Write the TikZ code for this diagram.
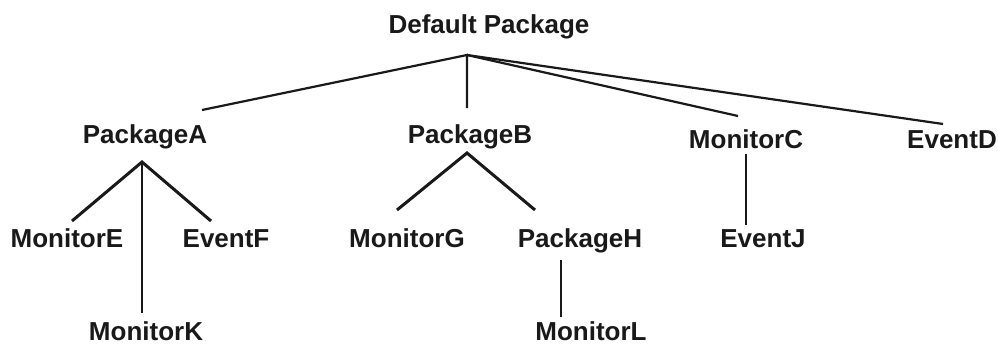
\documentclass[tikz,border=0pt]{standalone}
\usepackage{fontspec}
\setmainfont{Liberation Sans}
\begin{document}
\begin{tikzpicture}[x=1pt,y=-1pt,
  lbl/.style={anchor=base,inner sep=0pt,font=\fontsize{26}{30}\selectfont\bfseries,text=black!90},
  thinln/.style={line width=2.2pt,draw=black!90},
  thickln/.style={line width=3pt,draw=black!90}]
\useasboundingbox[fill=white] (0,0) rectangle (998,345);
% labels
\node[lbl] (root) at (489,34) {Default Package};
\node[lbl] (pA) at (145,143) {PackageA};
\node[lbl] (pB) at (470,143) {PackageB};
\node[lbl] (mC) at (746,148) {MonitorC};
\node[lbl] (eD) at (952,148) {EventD};
\node[lbl] (mE) at (67,247) {MonitorE};
\node[lbl] (eF) at (226,247) {EventF};
\node[lbl] (mG) at (407,247) {MonitorG};
\node[lbl] (pH) at (580,247) {PackageH};
\node[lbl] (eJ) at (763,247) {EventJ};
\node[lbl] (mK) at (146,340) {MonitorK};
\node[lbl] (mL) at (591,340) {MonitorL};
% hubs and ends
\coordinate (hR) at (467,55);
\coordinate (toA) at (202,110);
\coordinate (toB) at (467,108);
\coordinate (toC) at (738,116);
\coordinate (toD) at (943,124);
\coordinate (hA) at (142,162);
\coordinate (toE) at (72,221);
\coordinate (toF) at (211,221);
\coordinate (toK) at (142,313);
\coordinate (hB) at (467,153);
\coordinate (toG) at (397,210);
\coordinate (toH) at (535,210);
\coordinate (hH) at (561,260);
\coordinate (toL) at (561,317);
\coordinate (hC) at (746,154);
\coordinate (toJ) at (746,225);
% connectors
\draw[thinln] (toA) -- (hR) -- (toB);
\draw[thinln] (hR) -- (toC);
\draw[thinln] (hR) -- (toD);
\draw[thickln] (toE) -- (hA) -- (toF);
\draw[thinln] (hA) -- (toK);
\draw[thickln] (toG) -- (hB) -- (toH);
\draw[thinln] (hH) -- (toL);
\draw[thinln] (hC) -- (toJ);
\end{tikzpicture}
\end{document}
